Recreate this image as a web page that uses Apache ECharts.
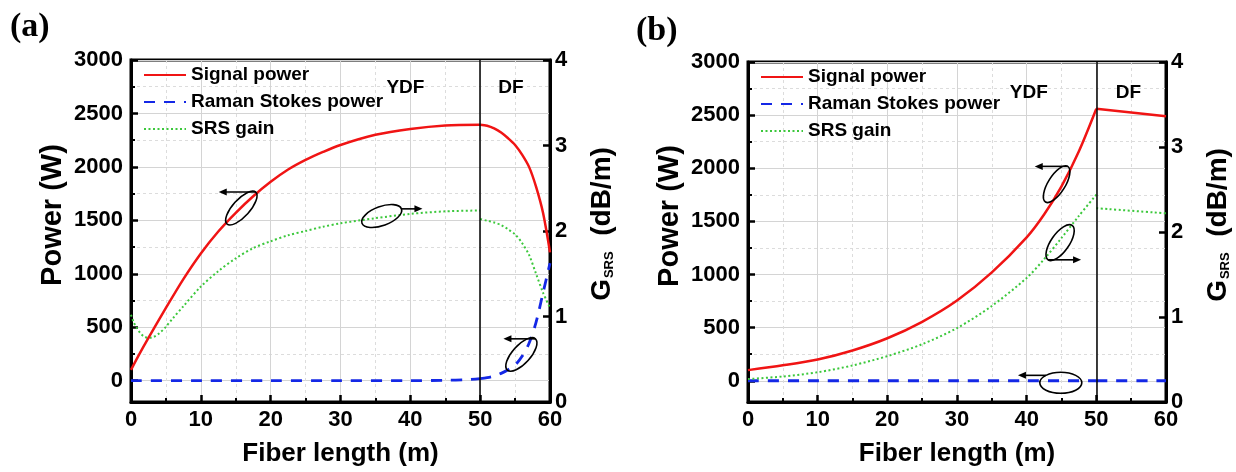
<!DOCTYPE html>
<html><head><meta charset="utf-8">
<script src="https://cdn.jsdelivr.net/npm/echarts@6/dist/echarts.min.js"></script>
<style>html,body{margin:0;padding:0;background:#fff}#c{width:1236px;height:472px}</style>
</head><body><div id="c"></div>
<script>
// ---------- Panel (a) : YDF section (0-50 m) and DF section (50-60 m) ----------
const a_signal_ydf_x = [0,1,2.5,5,7.5,10,12.5,15,17.5,20,22.5,25,27.5,30,35,40,45,50];
const a_signal_ydf_y = [100,225,400,680,950,1190,1395,1570,1725,1860,1975,2065,2140,2205,2300,2355,2388,2395];
const a_signal_df_x  = [50,51,52,53,54,55,56,57,58,59,60];
const a_signal_df_y  = [2395,2385,2360,2322,2268,2205,2115,2000,1815,1570,1200];
const a_raman_ydf_x  = [0,10,20,30,40,45,48,50];
const a_raman_ydf_y  = [0,0,0,0,0,3,8,18];
const a_raman_df_x   = [50,51,52,53,54,55,56,57,58,59,60];
const a_raman_df_y   = [18,27,42,68,102,145,228,350,545,820,1100];
const a_gain_ydf_x   = [0,0.4,0.8,1.3,1.8,2.5,3.2,4,5,6,7.5,10,12.5,15,17.5,20,22.5,25,27.5,30,35,40,45,50];
const a_gain_ydf_y   = [1.02,0.93,0.87,0.81,0.77,0.75,0.76,0.80,0.88,0.98,1.12,1.35,1.53,1.68,1.80,1.88,1.95,2.00,2.05,2.09,2.15,2.20,2.23,2.24];
const a_gain_df_x    = [50,51,52,53,54,55,56,57,58,59,60];
const a_gain_df_y    = [2.14,2.12,2.10,2.07,2.02,1.96,1.86,1.72,1.50,1.28,1.10];
// ---------- Panel (b) ----------
const b_signal_ydf_x = [0,5,10,15,20,25,30,35,40,42.5,45,47.5,50];
const b_signal_ydf_y = [100,145,200,285,400,555,755,1020,1350,1565,1830,2160,2560];
const b_signal_df_x  = [50,60];
const b_signal_df_y  = [2560,2490];
const b_raman_ydf_x  = [0,10,20,30,40,50];
const b_raman_ydf_y  = [0,0,0,0,0,0];
const b_raman_df_x   = [50,60];
const b_raman_df_y   = [0,0];
const b_gain_ydf_x   = [0,5,10,15,20,25,30,35,40,42.5,45,47.5,50];
const b_gain_ydf_y   = [0.27,0.30,0.35,0.43,0.54,0.68,0.87,1.13,1.46,1.68,1.93,2.19,2.44];
const b_gain_df_x    = [50,60];
const b_gain_df_y    = [2.28,2.22];

const seriesNames = ['Signal power','Raman Stokes power','SRS gain'];
const panelLabels = ['(a)','(b)'];
const regionLabels = ['YDF','DF'];
const xAxisName = 'Fiber length (m)';
const yLeftName = 'Power (W)';

const FONT = '"Liberation Sans", Arial, sans-serif';
const zip = (xs, ys) => xs.map((x, i) => [x, ys[i]]);

const grids = [
  {left:131, right:686, top:60, bottom:70},
  {left:748, right:70, top:62, bottom:68}
];

function xAxisFor(i){
  return {
    type:'value', gridIndex:i, min:0, max:60, interval:10,
    name:xAxisName, nameLocation:'middle', nameGap:39, nameMoveOverlap:false,
    nameTextStyle:{fontFamily:FONT, fontWeight:'bold', fontSize:26, color:'#000'},
    axisLine:{onZero:false, lineStyle:{color:'#000', width:3}},
    axisTick:{inside:true, length:7, lineStyle:{color:'#000', width:2.5}},
    minorTick:{show:true, splitNumber:2, length:4, lineStyle:{color:'#000', width:2}},
    axisLabel:{fontFamily:FONT, fontWeight:'bold', fontSize:22, color:'#000', margin:7},
    splitLine:{show:true, lineStyle:{color:'#d4d4d4', width:1}},
    minorSplitLine:{show:true, lineStyle:{color:'#dcdcdc', width:1, type:[3,3]}}
  };
}
function yLeftFor(i){
  return {
    type:'value', gridIndex:i, min:-200, max:3000, splitNumber:5, position:'left',
    name:yLeftName, nameLocation:'middle', nameGap:64, nameRotate:90, nameMoveOverlap:false,
    nameTextStyle:{fontFamily:FONT, fontWeight:'bold', fontSize:29, color:'#000', padding:[0,0,0,32]},
    axisLine:{onZero:false, lineStyle:{color:'#000', width:3}},
    axisTick:{inside:true, length:7, lineStyle:{color:'#000', width:2.5}},
    minorTick:{show:true, splitNumber:2, length:4, lineStyle:{color:'#000', width:2}},
    axisLabel:{fontFamily:FONT, fontWeight:'bold', fontSize:22, color:'#000', margin:8, showMinLabel:false,
      formatter:v => String(v)},
    splitLine:{show:true, lineStyle:{color:'#d4d4d4', width:1}},
    minorSplitLine:{show:true, lineStyle:{color:'#dcdcdc', width:1, type:[3,3]}}
  };
}
function yRightFor(i){
  return {
    type:'value', gridIndex:i, min:0, max:4, interval:1, position:'right',
    name:'{g|G}{s|SRS}{g|  (dB/m)}', nameLocation:'middle', nameGap:38, nameRotate:90, nameMoveOverlap:false,
    nameTextStyle:{color:'#000', padding:[0,0,0,14], rich:{
      g:{fontFamily:FONT, fontWeight:'bold', fontSize:28, color:'#000'},
      s:{fontFamily:FONT, fontWeight:'bold', fontSize:13, color:'#000', verticalAlign:'bottom', padding:[11,0,0,1]}
    }},
    axisLine:{onZero:false, lineStyle:{color:'#000', width:3}},
    axisTick:{inside:true, length:7, lineStyle:{color:'#000', width:2.5}},
    axisLabel:{fontFamily:FONT, fontWeight:'bold', fontSize:22, color:'#000', margin:5},
    splitLine:{show:false}
  };
}

const RED = '#f01414', BLUE = '#1428e6', GREEN = '#3cc83c';
const styles = [
  {color:RED, lineStyle:{color:RED, width:2.5}, z:4},
  {color:BLUE, lineStyle:{color:BLUE, width:2.8, type:[11,9]}, z:3},
  {color:GREEN, lineStyle:{color:GREEN, width:2, type:[2,2.5]}, z:3}
];
function oneSeries(i, k, data, withMark){
  const s = {
    name:seriesNames[k], type:'line', xAxisIndex:i, yAxisIndex:i*2 + (k === 2 ? 1 : 0), data:data,
    symbol:'none', smooth:0.3, z:styles[k].z,
    lineStyle:styles[k].lineStyle, itemStyle:{color:styles[k].color}
  };
  if (withMark) s.markLine = {silent:true, symbol:'none', label:{show:false},
    lineStyle:{color:'#000', width:1.5, type:'solid'}, data:[{xAxis:50}]};
  return s;
}
function seriesFor(i, parts){
  const out = [];
  parts.forEach((p, k) => {
    out.push(oneSeries(i, k, p[0], k === 0));
    out.push(oneSeries(i, k, p[1], false));
  });
  return out;
}

function legendFor(left, top){
  return {
    data:seriesNames, orient:'vertical', left:left, top:top, itemWidth:42, itemHeight:14, itemGap:7,
    selectedMode:false, padding:0,
    itemStyle:{opacity:0, borderWidth:0},
    textStyle:{fontFamily:FONT, fontWeight:'bold', fontSize:19, lineHeight:20, color:'#000'}
  };
}

const chart = echarts.init(document.getElementById('c'), null, {renderer:'canvas'});
const option = {
  animation:false,
  backgroundColor:'#fff',
  grid: grids.map(g => Object.assign({show:true, borderColor:'#000', borderWidth:3, backgroundColor:'transparent'}, g)),
  legend:[legendFor(143, 65), legendFor(760, 67)],
  xAxis:[xAxisFor(0), xAxisFor(1)],
  yAxis:[yLeftFor(0), yRightFor(0), yLeftFor(1), yRightFor(1)],
  series:[
    ...seriesFor(0, [
      [zip(a_signal_ydf_x,a_signal_ydf_y), zip(a_signal_df_x,a_signal_df_y)],
      [zip(a_raman_ydf_x,a_raman_ydf_y), zip(a_raman_df_x,a_raman_df_y)],
      [zip(a_gain_ydf_x,a_gain_ydf_y), zip(a_gain_df_x,a_gain_df_y)]
    ]),
    ...seriesFor(1, [
      [zip(b_signal_ydf_x,b_signal_ydf_y), zip(b_signal_df_x,b_signal_df_y)],
      [zip(b_raman_ydf_x,b_raman_ydf_y), zip(b_raman_df_x,b_raman_df_y)],
      [zip(b_gain_ydf_x,b_gain_ydf_y), zip(b_gain_df_x,b_gain_df_y)]
    ])
  ]
};
chart.setOption(option);

// ---------- annotations (ellipse + arrow), placed in data coordinates ----------
const notes = [
  {g:0, ax:0, x:15.8, y:1615, rx:21.5, ry:8.5, rot:48, t:0, dir:-1, len:37},
  {g:0, ax:1, x:35.9, y:2.175, rx:21, ry:9.5, rot:20, t:0, dir:1, len:21},
  {g:0, ax:0, x:55.9, y:245, rx:21, ry:9, rot:48, t:0, dir:-1, len:32},
  {g:1, ax:0, x:44.3, y:1850, rx:21, ry:8.5, rot:58, t:0, dir:-1, len:33},
  {g:1, ax:1, x:44.8, y:1.875, rx:21, ry:9, rot:55, t:180, dir:1, len:33},
  {g:1, ax:0, x:44.9, y:-19, rx:21, ry:10.5, rot:0, t:135, dir:-1, len:28}
];
const texts = [
  {g:0, x:39.3, y:2740, s:regionLabels[0]}, {g:0, x:54.4, y:2740, s:regionLabels[1]},
  {g:1, x:40.3, y:2710, s:regionLabels[0]}, {g:1, x:54.6, y:2710, s:regionLabels[1]}
];
const toPx = (g, ax, x, y) => chart.convertToPixel({xAxisIndex:g, yAxisIndex:g*2+ax}, [x, y]);
const graphics = [];
notes.forEach(n => {
  const c = toPx(n.g, n.ax, n.x, n.y);
  const r = n.rot*Math.PI/180, t = n.t*Math.PI/180;
  graphics.push({type:'ellipse', x:c[0], y:c[1], rotation:r, shape:{cx:0, cy:0, rx:n.rx, ry:n.ry},
    style:{fill:'none', stroke:'#000', lineWidth:1.6}, z:10});
  const lx = n.rx*Math.cos(t), ly = -n.ry*Math.sin(t);
  const sx = c[0] + lx*Math.cos(r) + ly*Math.sin(r);
  const sy = c[1] - lx*Math.sin(r) + ly*Math.cos(r);
  const ex = sx + n.dir*n.len;
  graphics.push({type:'line', shape:{x1:sx, y1:sy, x2:ex - n.dir*4, y2:sy}, style:{stroke:'#000', lineWidth:1.6}, z:10});
  graphics.push({type:'polygon', shape:{points:[[ex, sy],[ex - n.dir*8, sy-3.5],[ex - n.dir*8, sy+3.5]]}, style:{fill:'#000'}, z:10});
});
texts.forEach(tx => {
  const p = toPx(tx.g, 0, tx.x, tx.y);
  graphics.push({type:'text', x:p[0], y:p[1], style:{text:tx.s, font:'bold 19px ' + FONT, fill:'#000', align:'center', verticalAlign:'middle'}, z:10});
});
graphics.push({type:'text', left:10, top:10, style:{text:panelLabels[0], font:'bold 34px "Liberation Serif", "Times New Roman", serif', fill:'#000'}});
graphics.push({type:'text', left:636, top:14, style:{text:panelLabels[1], font:'bold 34px "Liberation Serif", "Times New Roman", serif', fill:'#000'}});
chart.setOption({graphic:graphics});
</script>
</body></html>
